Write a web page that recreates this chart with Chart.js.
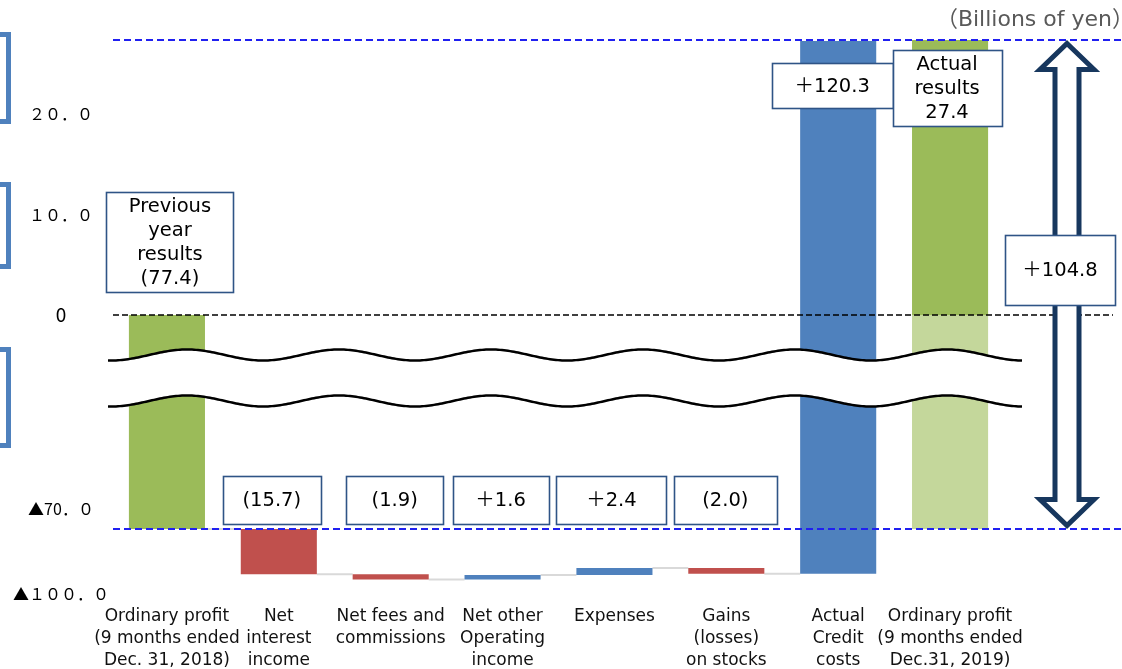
<!DOCTYPE html>
<html>
<head>
<meta charset="utf-8">
<script src="https://cdn.jsdelivr.net/npm/chart.js@4/dist/chart.umd.min.js"></script>
<style>
  html, body { margin: 0; padding: 0; background: #fff; }
  #wrap { width: 1122px; height: 669px; position: relative; }
</style>
</head>
<body>
<div id="wrap"><canvas id="c" width="1122" height="669"></canvas></div>
<script>
// ---- data -------------------------------------------------------------
const categories = [
  ['Ordinary profit', '(9 months ended', 'Dec. 31, 2018)'],
  ['Net', 'interest', 'income'],
  ['Net fees and', 'commissions'],
  ['Net other', 'Operating', 'income'],
  ['Expenses'],
  ['Gains', '(losses)', 'on stocks'],
  ['Actual', 'Credit', 'costs'],
  ['Ordinary profit', '(9 months ended', 'Dec.31, 2019)']
];
const previousResult = -77.4;                        // 9 months ended Dec. 31, 2018
const changes = [-15.7, -1.9, 1.6, 2.4, -2.0, 120.3]; // step factors
const actualResult = 27.4;                           // 9 months ended Dec. 31, 2019
const yTickValues = [20, 10, 0, -70, -100];
const yTickLabels = ['２０．０', '１０．０', '0', '▲70．０', '▲１００．０'];
const unitLabel = '（Billions of yen）';

// ---- derived series -------------------------------------------------------
const levels = [previousResult];
const ranges = [[previousResult, 0]];
let running = previousResult;
changes.forEach(d => {
  const next = +(running + d).toFixed(1);
  ranges.push([Math.min(running, next), Math.max(running, next)]);
  running = next;
  levels.push(running);
});
ranges.push([0, actualResult]);
const finalBreakPart = categories.map((_, i) => i === categories.length - 1 ? [previousResult, 0] : null);

const GREEN = '#9BBB59', LIGHT_GREEN = '#C4D79B', RED = '#C0504D', BLUE = '#4F81BD';
const barColors = [GREEN, ...changes.map(d => d < 0 ? RED : BLUE), GREEN];

function fmtChange(v) {
  return v < 0 ? '(' + Math.abs(v).toFixed(1) + ')' : '＋' + v.toFixed(1);
}
const boxTexts = [
  ['Previous', 'year', 'results', fmtChange(previousResult)],
  ...changes.map(d => [fmtChange(d)]),
  ['Actual', 'results', actualResult.toFixed(1)]
];
const totalText = fmtChange(+(actualResult - previousResult).toFixed(1));

// ---- fonts / layout ----------------------------------------------------
const FONT = "'DejaVu Sans', 'Noto Sans CJK JP', sans-serif";
const CJK = "'Noto Sans CJK JP', 'DejaVu Sans', sans-serif";

// value-label boxes: size, horizontal nudge and vertical anchor
const boxLayout = [
  { w: 127, h: 100, dx: 3,  anchor: 'zero', gap: 23 },
  { w: 98,  h: 48,  dx: -7, anchor: 'base', gap: 5 },
  { w: 97,  h: 48,  dx: 4,  anchor: 'base', gap: 5 },
  { w: 96,  h: 48,  dx: -2, anchor: 'base', gap: 5 },
  { w: 110, h: 48,  dx: -3, anchor: 'base', gap: 5 },
  { w: 103, h: 48,  dx: -1, anchor: 'base', gap: 5 },
  { w: 121, h: 45,  dx: -6, anchor: 'top',  gap: 23 },
  { w: 109, h: 76,  dx: -3, anchor: 'top',  gap: 10 }
];

// ---- broken y axis: piecewise-linear segments ------------------------------
class BrokenLinearScale extends Chart.LinearScale {
  _segs() { return this.options.segments; }
  getPixelForValue(value) {
    if (value === null || value === undefined || isNaN(value)) return NaN;
    const segs = this._segs();
    const total = segs.reduce((s, g) => s + g.weight, 0);
    let acc = 0;
    for (let i = 0; i < segs.length; i++) {
      const g = segs[i];
      if (value <= g.to || i === segs.length - 1) {
        const t = (value - g.from) / (g.to - g.from);
        return this.getPixelForDecimal((acc + t * g.weight) / total);
      }
      acc += g.weight;
    }
  }
  getValueForPixel(pixel) {
    const dec = this.getDecimalForPixel(pixel);
    const segs = this._segs();
    const total = segs.reduce((s, g) => s + g.weight, 0);
    let acc = 0;
    for (let i = 0; i < segs.length; i++) {
      const g = segs[i];
      const w = g.weight / total;
      if (dec <= acc + w || i === segs.length - 1) {
        return g.from + (dec - acc) / w * (g.to - g.from);
      }
      acc += w;
    }
  }
}
BrokenLinearScale.id = 'brokenLinear';
BrokenLinearScale.defaults = Chart.LinearScale.defaults;
Chart.register(BrokenLinearScale);

// ---- drawing helpers ------------------------------------------------------
function dashedLine(ctx, x1, x2, y, color, width, dash) {
  ctx.save();
  ctx.strokeStyle = color;
  ctx.lineWidth = width;
  ctx.setLineDash(dash);
  ctx.beginPath();
  ctx.moveTo(x1, y);
  ctx.lineTo(x2, y);
  ctx.stroke();
  ctx.restore();
}

function textBox(ctx, cx, cy, w, h, lines, size, lineH) {
  ctx.save();
  const x = Math.round(cx - w / 2) + 0.5, y = Math.round(cy - h / 2) + 0.5;
  ctx.fillStyle = '#fff';
  ctx.fillRect(x, y, w, h);
  ctx.strokeStyle = '#2F5486';
  ctx.lineWidth = 1.6;
  ctx.strokeRect(x, y, w, h);
  ctx.fillStyle = '#000';
  ctx.font = size + 'px ' + FONT;
  ctx.textAlign = 'center';
  ctx.textBaseline = 'middle';
  const start = cy - (lines.length - 1) * lineH / 2;
  lines.forEach((t, i) => ctx.fillText(t, cx, start + i * lineH + 1));
  ctx.restore();
}

const waterfallDecor = {
  id: 'waterfallDecor',
  beforeDatasetsDraw(chart) {
    // connector lines between consecutive steps
    const ctx = chart.ctx, y = chart.scales.y;
    const bars = chart.getDatasetMeta(0).data;
    ctx.save();
    ctx.strokeStyle = '#D9D9D9';
    ctx.lineWidth = 2;
    for (let i = 0; i < levels.length - 1; i++) {
      const a = bars[i], b = bars[i + 1];
      const py = y.getPixelForValue(levels[i]);
      ctx.beginPath();
      ctx.moveTo(a.x + a.width / 2, py);
      ctx.lineTo(b.x - b.width / 2, py);
      ctx.stroke();
    }
    ctx.restore();
  },
  afterDatasetsDraw(chart) {
    const ctx = chart.ctx, area = chart.chartArea, y = chart.scales.y;
    const bars = chart.getDatasetMeta(0).data;
    const W = chart.width;
    const yZero = y.getPixelForValue(0);
    const yBase = y.getPixelForValue(previousResult);
    const yTop = y.getPixelForValue(actualResult);

    // reference lines
    dashedLine(ctx, area.left + 2, W, yTop, '#2020F0', 2, [7, 4]);
    dashedLine(ctx, area.left + 2, W, yBase, '#2020F0', 2, [7, 4]);
    dashedLine(ctx, area.left + 2, W - 9, yZero, '#000', 1.5, [6, 3]);

    // axis break band with wavy edges
    const x1 = area.left - 3, x2 = area.right + 16, x0 = area.left + 76;
    const period = 152, amp = 5.5;
    const cA = yZero + 40, cB = yZero + 86;
    const wave = (x, c) => c - amp * Math.cos(2 * Math.PI * (x - x0) / period);
    const xs = [];
    for (let x = x1; x < x2; x += 2) xs.push(x);
    xs.push(x2);
    ctx.save();
    ctx.beginPath();
    xs.forEach((x, i) => i ? ctx.lineTo(x, wave(x, cA)) : ctx.moveTo(x, wave(x, cA)));
    for (let i = xs.length - 1; i >= 0; i--) ctx.lineTo(xs[i], wave(xs[i], cB));
    ctx.closePath();
    ctx.fillStyle = '#fff';
    ctx.fill();
    ctx.strokeStyle = '#000';
    ctx.lineWidth = 2.5;
    [cA, cB].forEach(c => {
      ctx.beginPath();
      xs.forEach((x, i) => i ? ctx.lineTo(x, wave(x, c)) : ctx.moveTo(x, wave(x, c)));
      ctx.stroke();
    });
    ctx.restore();

    // value labels
    boxTexts.forEach((lines, i) => {
      const L = boxLayout[i];
      const cx = bars[i].x + L.dx;
      let cy;
      if (L.anchor === 'zero') cy = yZero - L.gap - L.h / 2;
      else if (L.anchor === 'base') cy = yBase - L.gap - L.h / 2;
      else cy = area.top + L.gap + L.h / 2;
      textBox(ctx, cx, cy, L.w, L.h, lines, 19.5, 24);
    });

    // double-headed change arrow
    const ax = area.right + 61;
    const hw = 27, sw = 12, hh = 26;
    const t = yTop + 3.5, b = yBase - 3.5;
    ctx.save();
    ctx.beginPath();
    ctx.moveTo(ax, t);
    ctx.lineTo(ax + hw, t + hh);
    ctx.lineTo(ax + sw, t + hh);
    ctx.lineTo(ax + sw, b - hh);
    ctx.lineTo(ax + hw, b - hh);
    ctx.lineTo(ax, b);
    ctx.lineTo(ax - hw, b - hh);
    ctx.lineTo(ax - sw, b - hh);
    ctx.lineTo(ax - sw, t + hh);
    ctx.lineTo(ax - hw, t + hh);
    ctx.closePath();
    ctx.fillStyle = '#fff';
    ctx.fill();
    ctx.strokeStyle = '#17375E';
    ctx.lineWidth = 5;
    ctx.lineJoin = 'miter';
    ctx.stroke();
    ctx.restore();
    textBox(ctx, ax - 7, (yTop + yBase) / 2 - 15, 110, 70, [totalText], 19.5, 24);
  },
  afterDraw(chart) {
    const ctx = chart.ctx;
    // unit caption
    ctx.save();
    ctx.fillStyle = '#595959';
    ctx.font = '22px ' + FONT;
    ctx.textAlign = 'right';
    ctx.textBaseline = 'middle';
    ctx.fillText(unitLabel, chart.width + 12, 20);
    // side bracket markers at the left margin
    ctx.strokeStyle = BLUE;
    ctx.lineWidth = 5;
    [[34.5, 121.5], [184.5, 266.5], [349.5, 445.5]].forEach(([a, b]) => {
      ctx.strokeRect(-20, a, 28.5, b - a);
    });
    ctx.restore();
  }
};

// ---- chart ----------------------------------------------------------------
new Chart(document.getElementById('c'), {
  type: 'bar',
  data: {
    labels: categories,
    datasets: [
      {
        data: ranges,
        backgroundColor: barColors,
        borderWidth: 0,
        grouped: false,
        order: 1
      },
      {
        data: finalBreakPart,
        backgroundColor: LIGHT_GREEN,
        borderWidth: 0,
        grouped: false,
        order: 2
      }
    ]
  },
  options: {
    responsive: false,
    animation: false,
    events: [],
    layout: { padding: { top: 40, right: 116, bottom: 0, left: 0 } },
    datasets: { bar: { categoryPercentage: 1, barPercentage: 0.68 } },
    plugins: { legend: { display: false }, tooltip: { enabled: false }, title: { display: false } },
    scales: {
      x: {
        grid: { display: false, drawTicks: false },
        border: { display: false },
        ticks: {
          color: '#111',
          font: { family: FONT, size: 17, lineHeight: 1.28 },
          padding: 12,
          maxRotation: 0,
          autoSkip: false
        },
        afterFit: s => { s.height = 75; }
      },
      y: {
        type: 'brokenLinear',
        min: yTickValues[yTickValues.length - 1],
        max: actualResult,
        segments: [
          { from: yTickValues[yTickValues.length - 1], to: previousResult, weight: 65 },
          { from: previousResult, to: 0, weight: 214 },
          { from: 0, to: actualResult, weight: 275 }
        ],
        afterBuildTicks: s => { s.ticks = yTickValues.map(v => ({ value: v })); },
        grid: { display: false, drawTicks: false },
        border: { display: false },
        ticks: {
          color: '#000',
          crossAlign: 'center',
          padding: 2,
          font: c => ({ family: CJK, size: c.index === 2 ? 19 : 16 }),
          callback: (v, i) => yTickLabels[i]
        },
        afterFit: s => { s.width = 111; }
      }
    }
  },
  plugins: [waterfallDecor]
});
</script>
</body>
</html>
